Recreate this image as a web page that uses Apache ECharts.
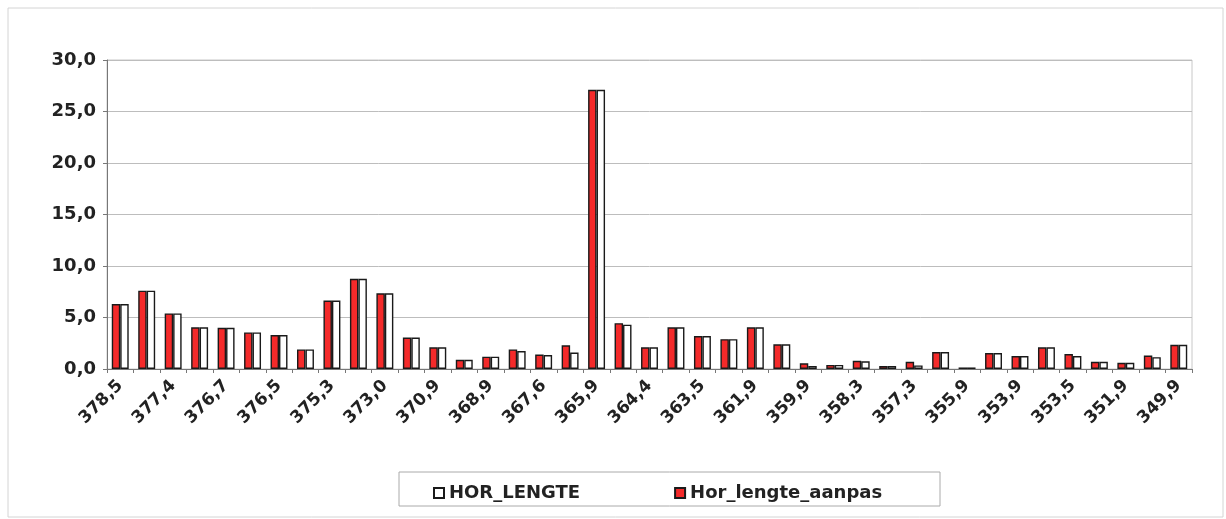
<!DOCTYPE html>
<html>
<head>
<meta charset="utf-8">
<script src="https://cdn.jsdelivr.net/npm/echarts@6/dist/echarts.min.js"></script>
<style>
  html, body { margin: 0; padding: 0; background: #fff; }
  #chart { width: 1226px; height: 519px; }
</style>
</head>
<body>
<div id="chart"></div>
<script>
// Stations (km) along the section
const categories = [
  '378,5','378,0','377,4','377,0','376,7','376,6','376,5','375,9','375,3','374,1',
  '373,0','371,8','370,9','369,9','368,9','368,2','367,6','366,8','365,9','365,1',
  '364,4','363,9','363,5','362,7','361,9','360,9','359,9','359,1','358,3','357,8',
  '357,3','356,6','355,9','354,9','353,9','353,7','353,5','352,7','351,9','350,9',
  '349,9'
];

// Adjusted horizontal length
const horLengteAanpas = [
  6.3, 7.6, 5.4, 4.05, 4.0, 3.55, 3.3, 1.9, 6.65, 8.75,
  7.35, 3.05, 2.1, 0.9, 1.2, 1.9, 1.4, 2.3, 27.1, 4.45,
  2.1, 4.05, 3.2, 2.9, 4.05, 2.4, 0.55, 0.4, 0.8, 0.3,
  0.7, 1.65, 0.15, 1.55, 1.25, 2.1, 1.45, 0.7, 0.6, 1.3,
  2.35
];

// Original horizontal length
const horLengte = [
  6.3, 7.6, 5.4, 4.05, 4.0, 3.55, 3.3, 1.9, 6.65, 8.75,
  7.35, 3.05, 2.1, 0.9, 1.2, 1.75, 1.35, 1.6, 27.1, 4.3,
  2.1, 4.05, 3.2, 2.9, 4.05, 2.4, 0.3, 0.4, 0.75, 0.3,
  0.35, 1.65, 0.15, 1.55, 1.25, 2.1, 1.25, 0.7, 0.6, 1.15,
  2.35
];

const yTicks = { min: 0, max: 30, interval: 5 };

const FONT = '"DejaVu Sans", sans-serif';
const chart = echarts.init(document.getElementById('chart'), null, { renderer: 'canvas' });

chart.setOption({
  backgroundColor: '#ffffff',
  animation: false,
  graphic: [
    { type: 'rect', shape: { x: 8, y: 8, width: 1215, height: 509 },
      style: { fill: 'none', stroke: '#d4d4d4', lineWidth: 1 }, silent: true, z: -1 },
    { type: 'rect', shape: { x: 399, y: 472, width: 541, height: 34 },
      style: { fill: '#fff', stroke: '#aaaaaa', lineWidth: 1 }, silent: true, z: 0 }
  ],
  grid: { left: 107, right: 34, top: 60, bottom: 150, show: true, borderColor: '#c8c8c8', borderWidth: 1 },
  legend: {
    data: ['HOR_LENGTE', 'Hor_lengte_aanpas'],
    left: 428, top: 479,
    itemWidth: 10, itemHeight: 10, itemGap: 94,
    icon: 'rect',
    textStyle: { fontFamily: FONT, fontWeight: 'bold', fontSize: 18, color: '#222' },
    z: 5
  },
  xAxis: {
    type: 'category',
    data: categories,
    boundaryGap: true,
    axisLine: { lineStyle: { color: '#777', width: 1 } },
    axisTick: { show: true, length: 4, lineStyle: { color: '#777' }, interval: 0 },
    axisLabel: {
      interval: 1, rotate: 45, margin: 14,
      fontFamily: FONT, fontWeight: 'bold', fontSize: 17, color: '#222'
    },
    splitLine: { show: false }
  },
  yAxis: {
    type: 'value',
    min: yTicks.min, max: yTicks.max, interval: yTicks.interval,
    axisLine: { show: true, lineStyle: { color: '#777', width: 1 } },
    axisTick: { show: true, length: 4, lineStyle: { color: '#777' } },
    axisLabel: {
      margin: 11, fontFamily: FONT, fontWeight: 'bold', fontSize: 18, color: '#222',
      formatter: v => v.toFixed(1).replace('.', ',')
    },
    splitLine: { lineStyle: { color: '#bdbdbd', width: 1 } }
  },
  series: [
    {
      name: 'Hor_lengte_aanpas',
      type: 'bar',
      data: horLengteAanpas,
      barGap: '0%',
      barCategoryGap: '36%',
      itemStyle: { color: '#f42a2a', borderColor: '#1a1a1a', borderWidth: 1.4 }
    },
    {
      name: 'HOR_LENGTE',
      type: 'bar',
      data: horLengte,
      barGap: '0%',
      barCategoryGap: '36%',
      itemStyle: { color: '#ffffff', borderColor: '#1a1a1a', borderWidth: 1.4 }
    }
  ]
});
</script>
</body>
</html>
